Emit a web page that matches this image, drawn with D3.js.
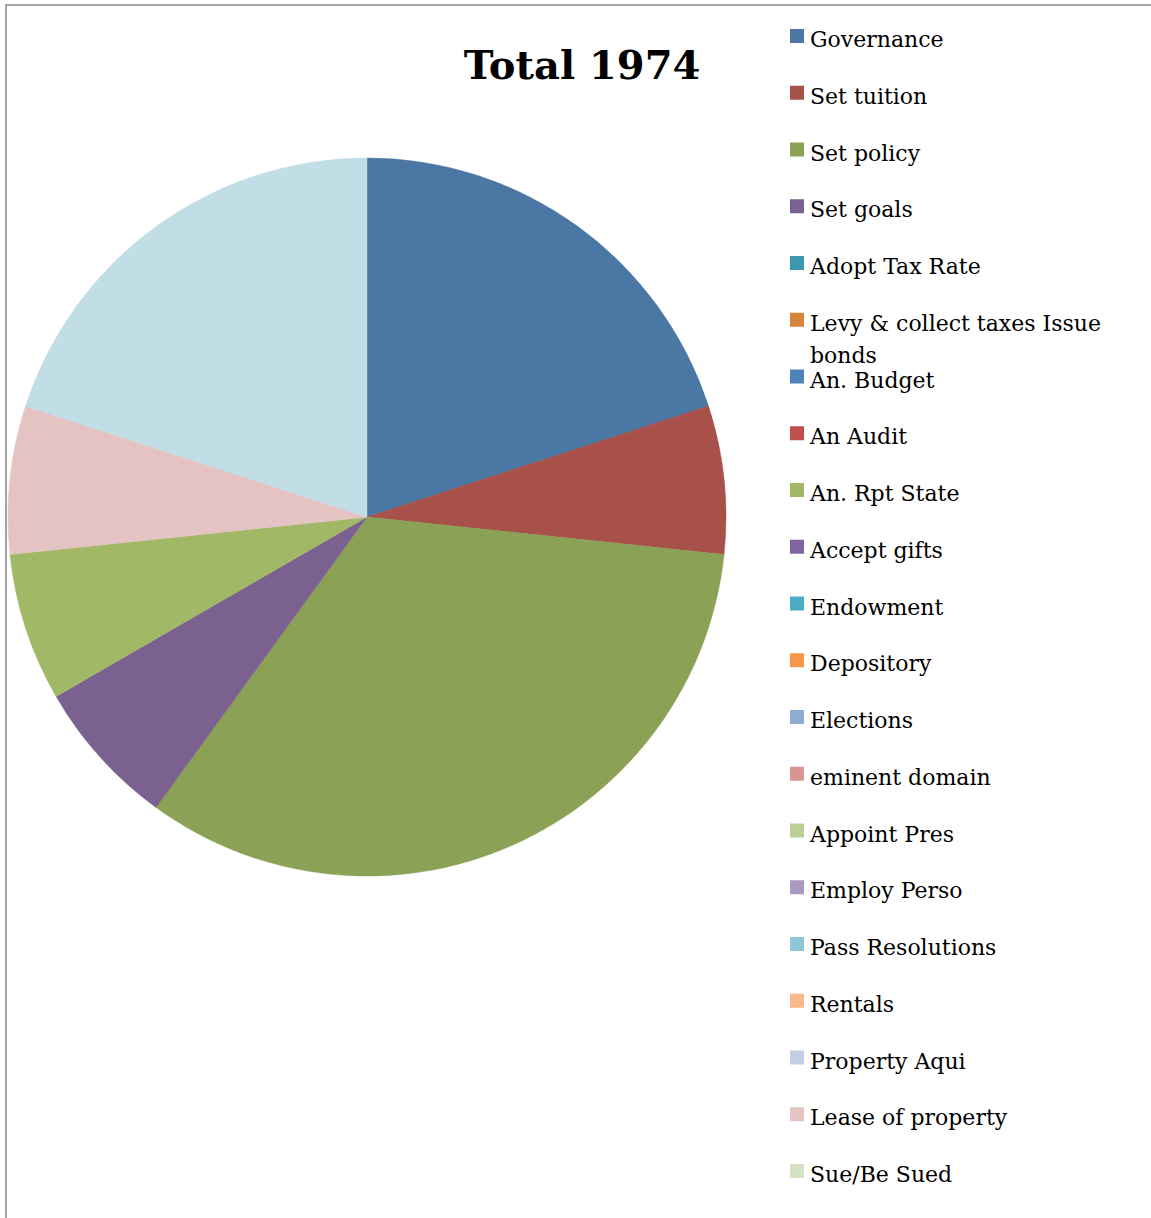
<!DOCTYPE html>
<html>
<head>
<meta charset="utf-8">
<script src="https://cdn.jsdelivr.net/npm/d3@7"></script>
<style>
  html, body { margin: 0; padding: 0; background: #fff; }
  svg { display: block; }
</style>
</head>
<body>
<svg id="chart" width="1151" height="1218"></svg>
<script>
// Board powers counted for 1974
const categories = [
  "Governance", "Set tuition", "Set policy", "Set goals", "Adopt Tax Rate",
  "Levy & collect taxes Issue bonds", "An. Budget", "An Audit", "An. Rpt State",
  "Accept gifts", "Endowment", "Depository", "Elections", "eminent domain",
  "Appoint Pres", "Employ Perso", "Pass Resolutions", "Rentals", "Property Aqui",
  "Lease of property", "Sue/Be Sued", "Other"
];
const values = [3, 1, 5, 1, 0, 0, 0, 0, 1, 0, 0, 0, 0, 0, 0, 0, 0, 0, 0, 1, 0, 3];
const colors = [
  "#4A77A4", "#A8504A", "#8BA155", "#7A618F", "#3C98AE", "#D8853C",
  "#4F81BD", "#C0504D", "#A1B966", "#8064A2", "#4BACC6", "#F79646",
  "#8FACD2", "#D99594", "#BBD097", "#A99AC0", "#8FC6D9", "#FAB98C",
  "#C3CEE4", "#E5C3C3", "#D5E2C4", "#C1DEE6"
];
// Legend labels that break onto a second line
const labelLines = {
  "Levy & collect taxes Issue bonds": ["Levy & collect taxes Issue", "bonds"]
};
const title = "Total 1974";

const width = 1151, height = 1218;
const svg = d3.select("#chart");
const font = "'DejaVu Serif', 'Liberation Serif', serif";

// Frame
svg.append("path")
  .attr("d", `M6,${height} V5 H${width}`)
  .attr("fill", "none")
  .attr("stroke", "#a3a3a3")
  .attr("stroke-width", 2);

// Title
svg.append("text")
  .attr("x", 582).attr("y", 79)
  .attr("text-anchor", "middle")
  .attr("font-family", font)
  .attr("font-weight", "bold")
  .attr("font-size", 40)
  .attr("fill", "#000")
  .text(title);

// Pie
const data = categories.map((c, i) => ({ name: c, value: values[i], color: colors[i] }));
const pie = d3.pie().value(d => d.value).sort(null);
const arc = d3.arc().innerRadius(0).outerRadius(359);

svg.append("g")
  .attr("transform", "translate(367,517)")
  .selectAll("path")
  .data(pie(data).filter(d => d.data.value > 0))
  .join("path")
  .attr("d", arc)
  .attr("fill", d => d.data.color)
  .attr("stroke", d => d.data.color)
  .attr("stroke-width", 0.5);

// Legend: rows stacked from the top; only those that fit in the chart area are shown
const legendY = d3.scaleLinear().domain([0, 1]).range([47, 47 + 56.75]);
const legendData = data.filter((d, i) => legendY(i) + 8 < height);
const legend = svg.append("g");
const rows = legend.selectAll("g")
  .data(legendData)
  .join("g")
  .attr("transform", (d, i) => `translate(790,${legendY(i)})`);

rows.append("rect")
  .attr("x", 0).attr("y", -18)
  .attr("width", 14).attr("height", 14)
  .attr("fill", d => d.color);

rows.append("text")
  .attr("x", 20).attr("y", 0)
  .attr("font-family", font)
  .attr("font-size", 22)
  .attr("fill", "#000")
  .selectAll("tspan")
  .data(d => labelLines[d.name] || [d.name])
  .join("tspan")
  .attr("x", 20)
  .attr("dy", (d, i) => i === 0 ? 0 : 32)
  .text(d => d);
</script>
</body>
</html>
